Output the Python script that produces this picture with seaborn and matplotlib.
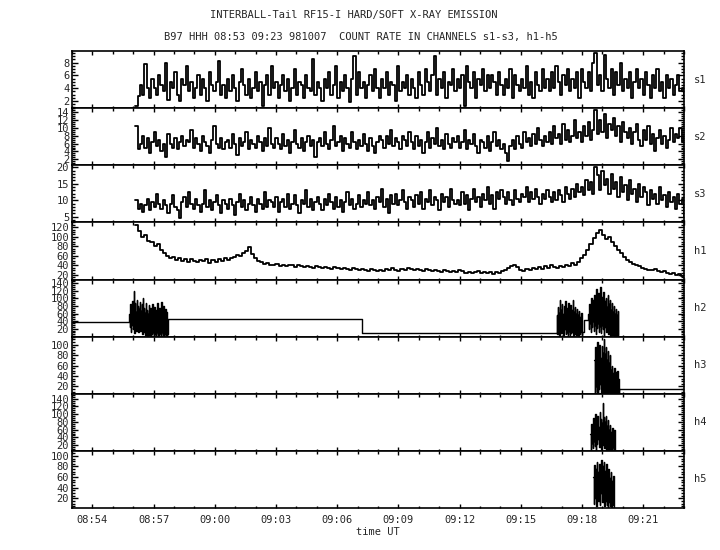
import numpy as np
import matplotlib
matplotlib.use("Agg")
import matplotlib.pyplot as plt
from matplotlib.ticker import MultipleLocator, FixedLocator, FuncFormatter
import seaborn as sns

# ---------------- data (time in minutes after 08:53 UT) ----------------
T_START_H, T_START_M = 8, 53
T_END = 30.0
SERIES_START = 3.1

S1 = [1.2, 2.8, 4.5, 3.0, 7.8, 4.0, 2.5, 5.5, 4.0, 3.0, 6.0, 4.5, 3.5, 8.0, 2.2, 5.0, 4.0, 6.5, 3.0, 2.0,
      5.5, 4.5, 7.5, 3.5, 5.0, 2.5, 4.0, 6.0, 3.0, 5.5, 4.0, 2.0, 6.5, 4.5, 3.5, 5.0, 8.2, 3.0, 4.5, 2.5,
      5.5, 3.5, 6.0, 4.0, 2.0, 5.0, 7.0, 4.5, 3.0, 5.5, 2.5, 4.0, 6.5, 3.5, 5.0, 1.2, 4.5, 6.0, 3.0, 7.5,
      4.0, 5.0, 2.5, 4.5, 6.0, 3.5, 5.5, 2.0, 4.0, 7.0, 3.0, 5.0, 4.5, 2.5, 6.0, 4.0, 3.5, 8.5, 3.0, 5.0,
      4.0, 2.0, 5.5, 4.0, 6.5, 3.0, 4.5, 7.5, 2.5, 5.0, 3.5, 6.0, 4.0, 1.8, 5.5, 9.0, 3.0, 6.5, 4.0, 5.0,
      2.5, 4.5, 6.0, 3.5, 7.0, 4.0, 2.5, 5.5, 4.0, 6.5, 3.0, 5.0, 4.5, 2.0, 7.5, 3.5, 5.0, 4.0, 6.0, 3.0,
      5.5, 4.0, 2.5, 6.5, 4.5, 3.0, 7.0, 5.0, 3.5, 6.0, 9.0, 3.0, 5.5, 4.0, 6.5, 2.5, 5.0, 4.5, 7.0, 3.5,
      5.5, 4.0, 6.0, 1.2, 7.5, 5.0, 4.0, 6.5, 2.5, 5.5, 4.5, 7.0, 3.5, 6.0, 4.0, 6.0, 5.0, 3.0, 6.5, 4.5,
      3.0, 5.5, 4.0, 7.0, 2.5, 6.0, 4.5, 3.5, 5.5, 4.0, 7.5, 3.0, 5.0, 2.5, 6.5, 4.5, 3.5, 7.0, 4.0, 5.5,
      3.5, 6.5, 4.0, 7.5, 5.0, 3.0, 6.0, 4.5, 7.0, 3.5, 5.5, 4.0, 6.5, 2.5, 7.0, 5.0, 4.0, 6.5, 3.5, 8.0,
      9.5, 4.5, 6.0, 3.5, 9.2, 5.5, 4.0, 7.0, 3.0, 6.5, 4.5, 8.0, 3.5, 5.5, 4.0, 6.5, 2.5, 5.0, 7.0, 4.0,
      5.5, 3.0, 6.5, 4.5, 2.5, 6.0, 4.0, 7.0, 3.5, 5.0, 2.5, 6.0, 4.0, 5.5, 3.0, 4.5, 6.0, 3.5, 4.0, 2.5]

S2 = [10.5, 4.5, 6.0, 8.0, 5.0, 7.5, 3.5, 6.5, 9.0, 5.5, 7.0, 4.0, 6.0, 2.5, 8.5, 6.0, 5.0, 7.5, 4.5, 6.5,
      8.0, 5.5, 7.0, 6.5, 9.5, 5.0, 7.5, 6.0, 4.0, 8.0, 6.5, 5.5, 3.5, 7.0, 10.5, 6.0, 5.0, 7.5, 4.5, 6.5,
      7.0, 5.0, 8.5, 6.0, 3.0, 7.5, 5.5, 6.5, 9.0, 4.5, 7.0, 6.0, 5.0, 8.0, 6.5, 4.0, 7.5, 5.5, 10.0, 6.0,
      5.0, 7.5, 6.0, 4.5, 8.5, 5.5, 7.0, 3.5, 6.5, 9.5, 6.0, 5.0, 7.5, 4.0, 6.5, 8.0, 5.5, 7.0, 2.5, 6.5,
      7.5, 5.5, 9.0, 6.0, 4.5, 7.0, 10.5, 5.5, 6.5, 8.0, 4.0, 7.5, 6.0, 5.0, 9.0, 6.5, 4.5, 7.0, 5.5, 8.5,
      6.0, 4.0, 7.5, 5.5, 3.5, 6.5, 8.0, 7.0, 5.0, 8.0, 6.0, 9.5, 5.5, 7.5, 6.5, 4.5, 8.0, 7.0, 5.5, 9.0,
      6.5, 4.5, 8.0, 5.5, 7.0, 3.5, 6.5, 9.0, 5.0, 7.5, 6.0, 10.0, 5.5, 7.0, 4.5, 8.5, 6.0, 5.0, 7.5, 6.5,
      8.0, 5.0, 6.5, 9.5, 4.5, 7.0, 6.0, 8.5, 5.5, 3.5, 7.0, 6.5, 5.0, 8.0, 4.0, 6.5, 9.0, 5.5, 7.0, 4.5,
      6.0, 3.5, 1.5, 5.5, 7.0, 4.5, 8.0, 6.0, 5.0, 9.0, 6.5, 7.5, 5.5, 8.5, 6.0, 10.0, 7.0, 5.5, 8.0, 6.5,
      9.0, 6.0, 10.5, 7.5, 8.5, 6.0, 11.0, 7.0, 9.5, 6.5, 8.0, 12.0, 7.5, 9.0, 6.5, 10.5, 8.0, 11.5, 7.0, 9.5,
      14.5, 8.5, 12.0, 9.0, 13.5, 7.5, 11.0, 9.5, 12.5, 8.0, 10.5, 6.5, 11.5, 9.0, 7.5, 10.0, 6.0, 9.0, 11.0, 7.0,
      5.5, 9.5, 7.0, 10.5, 6.0, 8.5, 4.0, 7.5, 9.5, 6.0, 8.0, 5.0, 7.0, 10.0, 6.5, 8.5, 7.5, 10.0, 6.5, 8.0]

S3 = [10.0, 7.5, 9.0, 6.5, 8.5, 10.5, 7.0, 9.5, 8.0, 12.0, 9.0, 7.5, 10.0, 8.5, 6.0, 9.0, 11.5, 8.0, 7.0, 4.5,
      9.5, 11.0, 8.0, 12.5, 9.0, 7.5, 10.5, 8.5, 6.5, 9.0, 13.0, 8.0, 10.0, 7.0, 9.5, 11.5, 8.5, 6.0, 10.0, 9.0,
      7.5, 10.5, 8.5, 5.5, 9.5, 12.0, 8.0, 10.0, 7.0, 9.0, 11.0, 8.5, 6.5, 10.5, 9.0, 7.5, 12.5, 8.0, 10.0, 9.5,
      8.0, 11.0, 6.5, 9.5, 10.5, 8.0, 12.0, 7.5, 9.0, 11.5, 8.5, 6.0, 10.0, 9.0, 13.0, 8.0, 10.5, 7.0, 9.5, 11.0,
      9.0, 7.0, 10.5, 8.5, 12.0, 9.5, 7.5, 11.0, 8.0, 10.0, 6.5, 9.5, 12.5, 8.5, 10.5, 7.5, 9.0, 11.5, 8.0, 10.0,
      9.0, 12.5, 8.5, 10.0, 7.5, 11.0, 9.5, 13.5, 8.0, 10.5, 6.0, 11.5, 9.0, 12.0, 8.5, 10.0, 13.0, 9.5, 7.5, 11.0,
      10.0, 8.0, 11.5, 9.0, 12.5, 7.5, 10.5, 9.5, 13.0, 8.5, 11.0, 10.0, 7.0, 12.0, 9.5, 11.0, 8.0, 13.5, 10.0, 9.0,
      10.0, 8.5, 12.5, 9.0, 11.5, 7.0, 10.5, 13.5, 9.5, 11.0, 8.0, 12.0, 10.0, 14.0, 9.0, 11.5, 7.5, 12.5, 10.5, 13.0,
      11.0, 9.0, 12.5, 10.0, 8.5, 13.0, 10.5, 9.5, 12.0, 11.0, 14.0, 9.5, 12.5, 10.5, 13.5, 11.0, 9.0, 12.0, 10.5, 13.0,
      11.0, 9.5, 12.5, 10.0, 13.0, 11.5, 9.5, 14.0, 12.0, 10.5, 13.5, 11.0, 15.0, 12.5, 14.0, 11.5, 16.0, 13.0, 15.5, 12.0,
      20.0, 17.5, 13.0, 19.0, 14.5, 16.5, 12.0, 18.0, 13.5, 15.5, 11.0, 17.0, 12.5, 14.5, 10.0, 16.0, 12.0, 13.5, 9.5, 15.0,
      11.0, 14.0, 12.5, 8.5, 13.0, 10.5, 12.0, 9.0, 14.0, 10.0, 11.5, 8.0, 12.5, 9.5, 11.0, 7.5, 12.0, 9.0, 10.5, 5.0]

H1 = [125, 112, 100, 104, 92, 88, 80, 84, 72, 66, 60,
      56, 58, 52, 55, 50, 54, 48, 53, 50, 47,
      52, 49, 54, 46, 51, 48, 53, 50, 56, 52,
      55, 58, 62, 60, 66, 70, 78, 64, 56, 50,
      47, 44, 45, 42, 40, 43, 39, 41, 38, 42,
      40, 37, 41, 38, 36, 39, 37, 35, 38, 36,
      34, 37, 35, 33, 36, 34, 32, 35, 33, 31,
      34, 32, 30, 33, 31, 29, 32, 30, 28, 31,
      29, 32, 30, 34, 31, 28, 33, 30, 35, 32,
      30, 33, 31, 29, 32, 30, 28, 31, 29, 27,
      30, 28, 26, 29, 27, 30, 28, 25, 27, 24,
      26, 28, 25, 27, 24, 26, 23, 27, 25, 28,
      30, 34, 38, 42, 36, 31, 29, 32, 30, 34,
      33, 36, 32, 38, 35, 40, 37, 34, 39, 36,
      42, 38, 45, 41, 48, 55, 62, 72, 85, 98,
      108, 115, 104, 96, 100, 88, 80, 72, 65, 58,
      52, 48, 44, 40, 38, 35, 33, 31, 30, 32,
      29, 27, 28, 25, 23, 24, 21, 22, 18, 16]

# h2: steady levels and bursts
H2_LEVEL_TIMES = [0.0, 4.7, 14.2, 25.0, 25.1]
H2_LEVELS = [37, 45, 8, 12, 44]
H2_BURST_A = (2.8, 4.68)
H2_A_HI = [60, 85, 70, 92, 78, 120, 88, 65, 95, 80, 72, 90, 68, 84, 100, 75, 62, 88, 70, 58,
           82, 66, 74, 55, 85, 60, 78, 50, 70, 88, 62, 75, 56, 90, 68, 80, 58, 72, 64, 52]
H2_A_LO = [25, 12, 30, 18, 22, 8, 28, 15, 20, 10, 25, 14, 18, 5, 22, 10, 2, 15, 0, 8,
           3, 12, 0, 5, 10, 0, 6, 2, 12, 0, 4, 8, 0, 10, 3, 0, 6, 2, 0, 5]
H2_BURST_B = (23.75, 24.98)
H2_B_HI = [55, 78, 62, 95, 70, 85, 60, 80, 92, 66, 74, 88, 58, 82, 70, 96, 64, 76, 60, 72, 55, 68, 50, 62]
H2_B_LO = [5, 15, 0, 20, 8, 12, 2, 18, 6, 10, 0, 14, 4, 8, 12, 0, 6, 10, 2, 8, 0, 5, 10, 2]
H2_BURST_C = (25.3, 26.78)
H2_C_HI = [60, 85, 72, 100, 80, 95, 110, 88, 125, 98, 115, 90, 130, 105, 85, 118, 92, 100, 78, 110,
           85, 95, 70, 88, 65, 80, 60, 72, 55, 68]
H2_C_LO = [20, 35, 10, 25, 40, 15, 30, 5, 22, 35, 12, 28, 8, 30, 18, 0, 25, 10, 20, 5,
           15, 0, 10, 2, 8, 0, 5, 0, 3, 0]

H3_BURST = (25.6, 26.8)
H3_HI = [70, 95, 80, 105, 88, 100, 75, 98, 85, 110, 82, 95, 70, 88, 65, 80, 52, 60, 45, 55, 48, 40, 50, 35]
H3_LO = [5, 20, 10, 0, 15, 25, 5, 18, 8, 0, 12, 5, 0, 10, 15, 0, 5, 10, 0, 8, 3, 0, 5, 0]
H3_TAIL_LEVEL = 16

H4_BURST = (25.4, 26.6)
H4_HI = [50, 75, 62, 90, 70, 100, 82, 95, 68, 105, 88, 78, 130, 92, 80, 96, 70, 85, 60, 72, 55, 65, 48, 58]
H4_LO = [8, 25, 12, 30, 18, 5, 22, 35, 15, 28, 10, 20, 32, 12, 25, 8, 18, 5, 12, 0, 8, 15, 2, 5]

H5_BURST = (25.55, 26.55)
H5_HI = [60, 82, 75, 88, 70, 85, 78, 92, 80, 88, 72, 85, 66, 75, 58, 70, 52, 62]
H5_LO = [10, 20, 5, 25, 15, 8, 30, 12, 20, 5, 15, 8, 0, 12, 5, 0, 8, 2]

CHANNELS = ["s1", "s2", "s3", "h1", "h2", "h3", "h4", "h5"]
YLIMS = [(0.9, 9.8), (0.5, 15), (3.3, 20.6), (10.7, 130), (-1, 150), (6, 115.5), (5, 153), (1.5, 109.5)]
YMAJ = [[2, 4, 6, 8], [2, 4, 6, 8, 10, 12, 14], [5, 10, 15, 20], [20, 40, 60, 80, 100, 120],
        [20, 40, 60, 80, 100, 120, 140], [20, 40, 60, 80, 100], [20, 40, 60, 80, 100, 120, 140],
        [20, 40, 60, 80, 100]]
YMIN = [0.5, 0.5, 1, 5, 5, 5, 5, 5]
XTICK_MIN = [1, 4, 7, 10, 13, 16, 19, 22, 25, 28]

TITLE1 = "INTERBALL-Tail RF15-I HARD/SOFT X-RAY EMISSION"
TITLE2 = "B97 HHH 08:53 09:23 981007  COUNT RATE IN CHANNELS s1-s3, h1-h5"
XLABEL = "time UT"

# ---------------- helpers ----------------
def regular(vals):
    return np.linspace(SERIES_START, T_END, len(vals)), np.asarray(vals, float)

def burst(span, hi, lo):
    y = np.column_stack([hi, lo]).ravel().astype(float)
    x = np.linspace(span[0], span[1], len(y))
    return x, y

def draw(ax, x, y, lw=1.3):
    sns.lineplot(x=x, y=y, ax=ax, color="black", linewidth=lw, estimator=None,
                 sort=False, drawstyle="steps-post", errorbar=None)

# ---------------- figure ----------------
sns.set_style("ticks")
plt.rcParams["font.family"] = ["DejaVu Sans Mono"]
plt.rcParams["font.size"] = 7.5

fig = plt.figure(figsize=(7.2, 5.5), dpi=100)
axes = fig.subplots(8, 1, sharex=True,
                    gridspec_kw=dict(hspace=0, left=72/720, right=684/720,
                                     top=1 - 51/550, bottom=1 - 508/550))

series = {}
series["s1"] = regular(S1)
series["s2"] = regular(S2)
series["s3"] = regular(S3)
series["h1"] = regular(H1)

xa, ya = burst(H2_BURST_A, H2_A_HI, H2_A_LO)
xb, yb = burst(H2_BURST_B, H2_B_HI, H2_B_LO)
xc, yc = burst(H2_BURST_C, H2_C_HI, H2_C_LO)
x2 = np.concatenate([[H2_LEVEL_TIMES[0]], xa, H2_LEVEL_TIMES[1:3], xb, H2_LEVEL_TIMES[3:5], xc])
y2 = np.concatenate([[H2_LEVELS[0]], ya, H2_LEVELS[1:3], yb, H2_LEVELS[3:5], yc])
series["h2"] = (x2, y2)

xd, yd = burst(H3_BURST, H3_HI, H3_LO)
series["h3"] = (np.concatenate([xd, [H3_BURST[1], T_END]]),
                np.concatenate([yd, [H3_TAIL_LEVEL, H3_TAIL_LEVEL]]))
series["h4"] = burst(H4_BURST, H4_HI, H4_LO)
series["h5"] = burst(H5_BURST, H5_HI, H5_LO)

def fmt(t, pos):
    tot = T_START_H * 60 + T_START_M + int(round(t))
    return f"{tot // 60:02d}:{tot % 60:02d}"

for i, (ax, ch) in enumerate(zip(axes, CHANNELS)):
    x, y = series[ch]
    draw(ax, x, y, lw=1.3 if i < 4 else 1.0)
    ax.set_xlim(0, T_END)
    ax.set_ylim(*YLIMS[i])
    ax.yaxis.set_major_locator(FixedLocator(YMAJ[i]))
    ax.yaxis.set_minor_locator(MultipleLocator(YMIN[i]))
    ax.xaxis.set_major_locator(FixedLocator(XTICK_MIN))
    ax.xaxis.set_minor_locator(MultipleLocator(1))
    ax.xaxis.set_major_formatter(FuncFormatter(fmt))
    ax.tick_params(which="both", direction="in", top=True, right=True, bottom=True, left=True,
                   width=1.0, color="black", labelsize=7.5)
    ax.tick_params(axis="x", which="major", length=3.2, pad=5)
    ax.tick_params(axis="x", which="minor", length=1.8)
    ax.tick_params(axis="y", which="major", length=4.0, pad=2)
    ax.tick_params(axis="y", which="minor", length=2.0)
    for sp in ax.spines.values():
        sp.set_linewidth(1.2)
        sp.set_color("black")
    ax.set_xlabel("")
    ax.set_ylabel("")
    if i < 7:
        ax.tick_params(axis="x", labelbottom=False)
    pos = ax.get_position()
    fig.text(700/720, (pos.y0 + pos.y1) / 2, ch, ha="center", va="center", fontsize=7.5)

fig.text(354/720, 1 - 15/550, TITLE1, ha="center", va="center", fontsize=7.5)
fig.text(361/720, 1 - 37/550, TITLE2, ha="center", va="center", fontsize=7.5)
fig.text(378/720, 1 - 532/550, XLABEL, ha="center", va="center", fontsize=7.5)

fig.savefig("out.png", dpi=100)
